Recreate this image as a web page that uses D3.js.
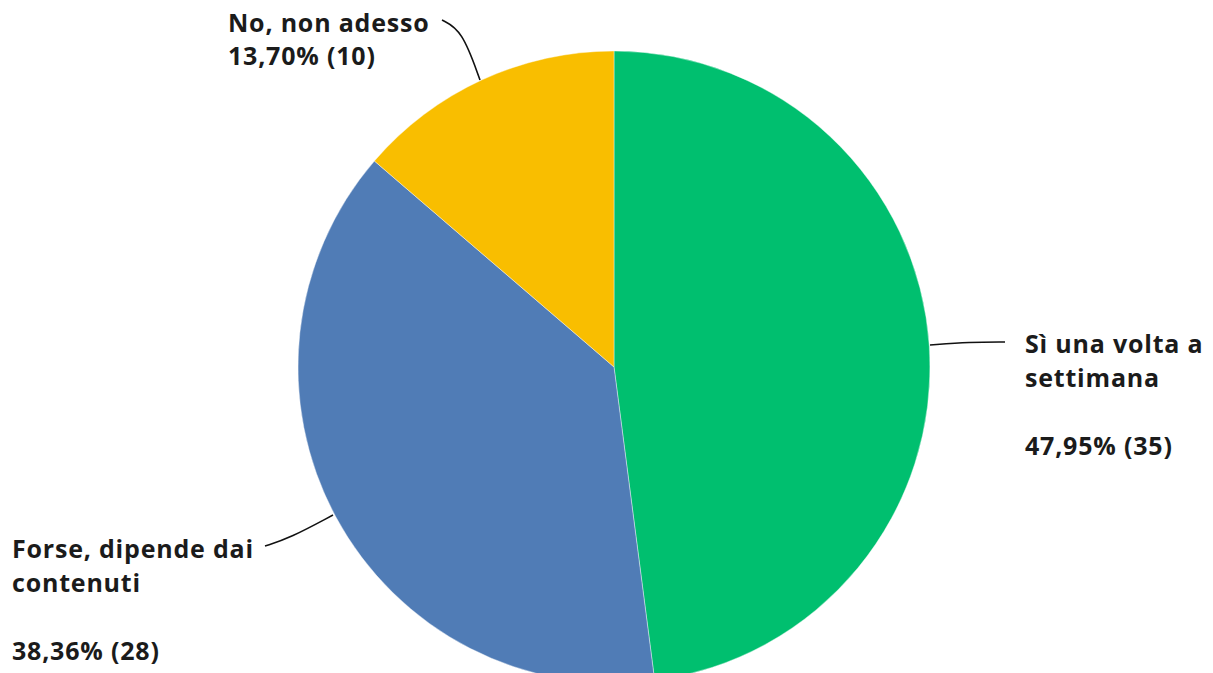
<!DOCTYPE html>
<html><head><meta charset="utf-8">
<script src="https://cdn.jsdelivr.net/npm/d3@7"></script>
<style>html,body{margin:0;padding:0;background:#fff;overflow:hidden}</style>
</head><body>
<svg id="c" width="1213" height="673"></svg>
<script>
const categories = ["Sì una volta a settimana", "Forse, dipende dai contenuti", "No, non adesso"];
const counts = [35, 28, 10];
const percentLabels = ["47,95%", "38,36%", "13,70%"];
const colors = ["#00BF6F", "#507CB6", "#F9BE00"];
const labelLines = [["Sì una volta a", "settimana", "", "47,95% (35)"],
                    ["Forse, dipende dai", "contenuti", "", "38,36% (28)"],
                    ["No, non adesso", "13,70% (10)"]];

const svg = d3.select("#c");
const cx = 614, cy = 367, r = 316;
const g = svg.append("g").attr("transform", `translate(${cx},${cy})`);
const pie = d3.pie().sort(null).value(d => d)(counts);
const arc = d3.arc().innerRadius(0).outerRadius(r);
g.selectAll("path.s").data(pie).enter().append("path")
  .attr("d", arc).attr("fill", (d,i) => colors[i])
  .attr("stroke", "#fff").attr("stroke-width", 0.4);

const lay = [
  {x: 1025, y: 353, lh: 34, line: [[930,345],[970,342],[1005,342]]},
  {x: 12, y: 558, lh: 34, line: [[333,515],[290,538],[265,546]]},
  {x: 228, y: 32, lh: 33, line: [[480,80],[462,30],[442,20]]}
];
const lineGen = d3.line().curve(d3.curveBasis);
lay.forEach((L, i) => {
  svg.append("path").attr("d", lineGen(L.line))
    .attr("fill", "none").attr("stroke", "#111").attr("stroke-width", 1.6);
  const t = svg.append("text").attr("x", L.x).attr("y", L.y)
    .attr("font-family", "'Open Sans', sans-serif").attr("font-weight", 700)
    .attr("font-size", 25).attr("letter-spacing", 0.8).attr("fill", "#1b1b1b");
  labelLines[i].forEach((s, k) => {
    t.append("tspan").attr("x", L.x).attr("y", L.y + k * L.lh).text(s);
  });
});
</script>
</body></html>
